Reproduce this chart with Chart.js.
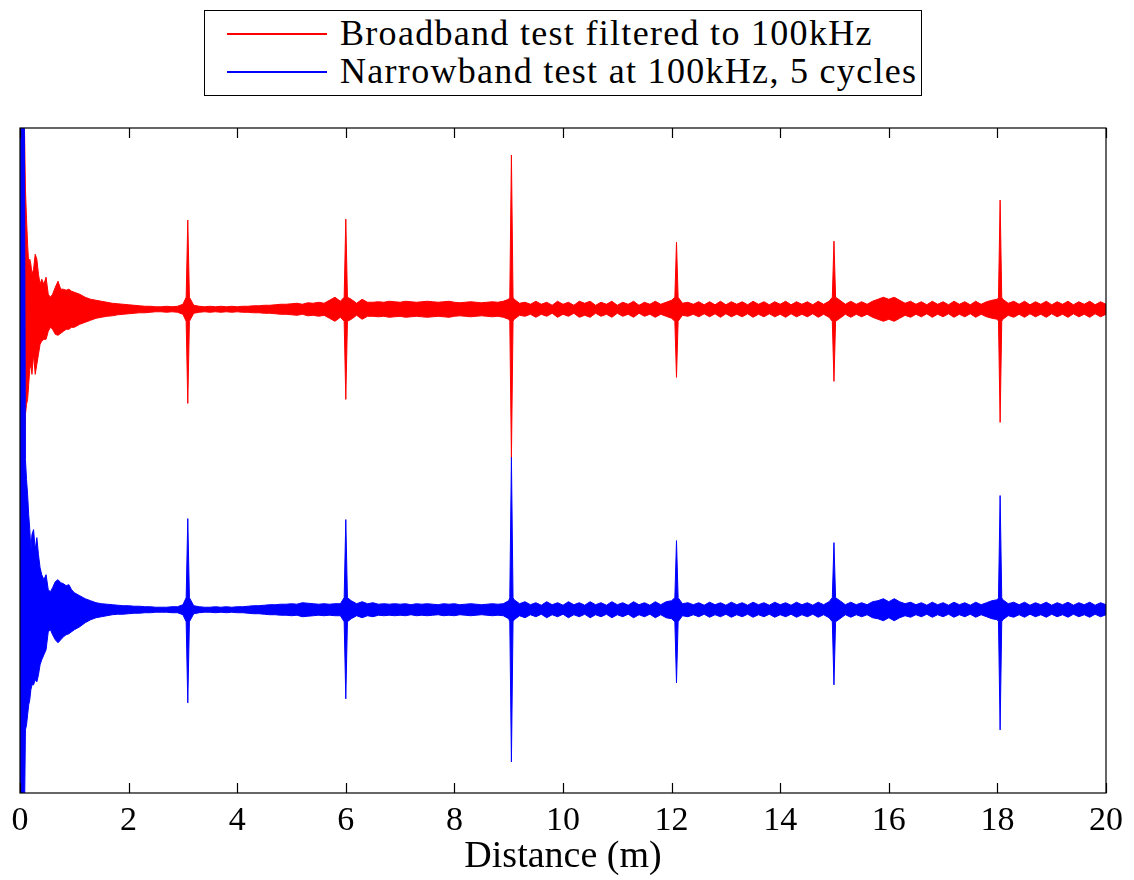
<!DOCTYPE html>
<html>
<head>
<meta charset="utf-8">
<script src="https://cdn.jsdelivr.net/npm/chart.js@4.4.1/dist/chart.umd.min.js"></script>
<style>
  body { margin:0; background:#fff; }
  #wrap { position:relative; width:1134px; height:880px; }
  #legend { position:absolute; left:204px; top:10px; width:718px; height:86px;
    border:1.3px solid #000; box-sizing:border-box; background:#fff;
    font-family:"Liberation Serif", serif; font-size:36px; letter-spacing:1.3px; color:#000; }
  #legend .sw { position:absolute; left:22px; width:100px; height:1.5px; }
  #legend .tx { position:absolute; left:135px; line-height:40px; white-space:nowrap; }
</style>
</head>
<body>
<div id="wrap">
  <canvas id="chart" width="1134" height="880"></canvas>
  <div id="legend">
    <div class="sw" style="top:22px;background:#ff0000"></div>
    <div class="tx" style="top:2px">Broadband test filtered to 100kHz</div>
    <div class="sw" style="top:60px;background:#0000ff"></div>
    <div class="tx" style="top:40px">Narrowband test at 100kHz, 5 cycles</div>
  </div>
</div>
<script>
// axis
const xTicks = [0,2,4,6,8,10,12,14,16,18,20];
const xTitle = 'Distance (m)';
const seriesNames = ['Broadband test filtered to 100kHz', 'Narrowband test at 100kHz, 5 cycles'];
const redOffset = 1.5, blueOffset = -1.5;

// first 2.4 m, envelope of the ringing (upper / lower amplitude)
const earlyX = [0,0.02,0.04,0.06,0.08,0.1,0.12,0.14,0.16,0.18,0.2,0.22,0.25,0.28,0.31,0.34,0.37,0.4,0.44,0.48,
  0.52,0.56,0.6,0.65,0.7,0.75,0.8,0.85,0.9,0.95,1.0,1.1,1.2,1.3,1.4,1.5,1.6,1.7,1.8,1.9,2.0,2.1,2.2,2.3,2.4];
const redUpEarly = [0.3,1.0,1.9,1.9,1.9,1.2,0.9,0.65,0.45,0.5,0.45,0.35,0.4,0.55,0.5,0.35,0.25,0.3,0.25,0.32,
  0.15,0.12,0.15,0.22,0.28,0.2,0.2,0.19,0.2,0.18,0.17,0.15,0.12,0.1,0.09,0.08,0.07,0.06,0.055,0.05,0.045,0.04,0.035,0.03,0.03];
const redDnEarly = [0.3,1.0,1.2,2.48,1.6,1.05,0.95,0.9,0.75,0.6,0.55,0.65,0.45,0.65,0.55,0.45,0.35,0.32,0.3,0.3,
  0.22,0.18,0.2,0.25,0.26,0.24,0.22,0.2,0.2,0.18,0.18,0.15,0.13,0.11,0.09,0.08,0.07,0.065,0.055,0.05,0.045,0.04,0.035,0.035,0.03];
const blueUpEarly = [5,5,5,5,5,1.5,1.3,1.15,0.95,0.8,0.6,0.75,0.8,0.6,0.72,0.55,0.42,0.35,0.3,0.35,
  0.2,0.18,0.22,0.28,0.3,0.27,0.26,0.24,0.25,0.2,0.17,0.14,0.11,0.09,0.07,0.06,0.055,0.05,0.045,0.04,0.04,0.035,0.035,0.03,0.03];
const blueDnEarly = [2.2,2.2,2.2,2.2,2.2,1.2,1.15,1.05,0.95,0.9,0.8,0.75,0.75,0.7,0.72,0.65,0.55,0.5,0.45,0.4,
  0.22,0.2,0.25,0.3,0.33,0.3,0.27,0.25,0.24,0.22,0.2,0.17,0.13,0.1,0.08,0.07,0.06,0.05,0.045,0.045,0.04,0.035,0.035,0.03,0.03];

// 2.5 m .. 20 m, one amplitude every 0.1 m
const bandStart = 2.5, bandStep = 0.1;
const redBand = [
  0.025,0.025,0.03,0.025,0.03,0.05,0.06,0.04,0.03,0.025,
  0.03,0.025,0.03,0.025,0.03,0.025,0.03,0.03,0.035,0.035,
  0.04,0.04,0.045,0.05,0.05,0.055,0.06,0.05,0.065,0.06,
  0.07,0.06,0.09,0.12,0.08,0.08,0.1,0.06,0.1,0.07,
  0.07,0.075,0.07,0.08,0.075,0.07,0.08,0.075,0.07,0.075,
  0.08,0.075,0.07,0.075,0.08,0.07,0.065,0.07,0.075,0.07,
  0.065,0.07,0.075,0.07,0.08,0.1,0.1,0.06,0.07,0.05,
  0.08,0.05,0.07,0.04,0.08,0.05,0.07,0.04,0.08,0.06,
  0.08,0.04,0.07,0.05,0.08,0.04,0.07,0.05,0.08,0.04,
  0.07,0.05,0.08,0.05,0.07,0.09,0.1,0.06,0.07,0.05,
  0.075,0.045,0.075,0.045,0.08,0.045,0.075,0.05,0.075,0.045,
  0.08,0.05,0.075,0.045,0.075,0.05,0.08,0.045,0.075,0.05,
  0.075,0.045,0.08,0.05,0.08,0.1,0.09,0.05,0.08,0.05,
  0.075,0.05,0.08,0.1,0.12,0.1,0.12,0.09,0.06,0.08,
  0.05,0.075,0.045,0.08,0.05,0.075,0.045,0.08,0.05,0.075,
  0.045,0.08,0.05,0.075,0.09,0.1,0.1,0.06,0.08,0.05,
  0.08,0.045,0.075,0.05,0.08,0.045,0.075,0.05,0.08,0.045,
  0.075,0.05,0.08,0.045,0.075,0.05
];
const blueBand = [
  0.025,0.025,0.025,0.03,0.03,0.05,0.06,0.04,0.03,0.025,
  0.025,0.03,0.025,0.03,0.025,0.03,0.03,0.035,0.04,0.04,
  0.045,0.05,0.05,0.055,0.055,0.06,0.055,0.07,0.065,0.06,
  0.055,0.06,0.055,0.06,0.06,0.08,0.09,0.06,0.08,0.06,
  0.07,0.055,0.06,0.055,0.06,0.055,0.06,0.05,0.06,0.055,
  0.06,0.055,0.05,0.06,0.055,0.06,0.05,0.055,0.06,0.055,
  0.05,0.055,0.06,0.055,0.06,0.09,0.1,0.06,0.08,0.05,
  0.07,0.045,0.08,0.05,0.07,0.045,0.08,0.05,0.07,0.045,
  0.08,0.05,0.07,0.045,0.08,0.05,0.07,0.045,0.08,0.05,
  0.07,0.045,0.08,0.05,0.08,0.09,0.1,0.06,0.07,0.05,
  0.07,0.045,0.075,0.05,0.07,0.045,0.075,0.05,0.07,0.045,
  0.075,0.05,0.07,0.045,0.075,0.05,0.07,0.045,0.075,0.05,
  0.07,0.045,0.075,0.05,0.08,0.1,0.09,0.05,0.075,0.05,
  0.07,0.05,0.08,0.09,0.11,0.08,0.11,0.08,0.06,0.075,
  0.05,0.07,0.045,0.075,0.05,0.07,0.045,0.075,0.05,0.07,
  0.045,0.075,0.05,0.07,0.09,0.1,0.1,0.06,0.075,0.05,
  0.075,0.045,0.07,0.05,0.075,0.045,0.07,0.05,0.075,0.045,
  0.07,0.05,0.075,0.045,0.07,0.05
];

// echoes from the joints
const spikeX = [3.09, 6.0, 9.05, 12.09, 14.99, 18.05];
const redSpikeUp  = [0.89, 0.90, 1.54, 0.67, 0.68, 1.09];
const redSpikeDn  = [0.94, 0.90, 1.49, 0.68, 0.72, 1.13];
const blueSpikeUp = [0.91, 0.90, 1.52, 0.69, 0.67, 1.14];
const blueSpikeDn = [0.93, 0.89, 1.52, 0.73, 0.75, 1.20];
const spikeFoot = 0.12;

// builds upper and lower envelope lines for one trace
function envelope(offset, upE, dnE, band, spUp, spDn){
  const pts = [];
  earlyX.forEach((x,i)=>pts.push({x, u:upE[i], d:dnE[i]}));
  band.forEach((a,i)=>{
    const x = +(bandStart + i*bandStep).toFixed(2);
    if (spikeX.some(s=>Math.abs(s-x) < 0.035)) return;
    pts.push({x, u:a, d:a});
  });
  spikeX.forEach((s,i)=>{
    pts.push({x:+(s-0.03).toFixed(3), u:spikeFoot, d:spikeFoot});
    pts.push({x:s, u:spUp[i], d:spDn[i]});
    pts.push({x:+(s+0.03).toFixed(3), u:spikeFoot, d:spikeFoot});
  });
  pts.sort((a,b)=>a.x-b.x);
  return {
    upper: pts.map(p=>({x:p.x, y:offset+p.u})),
    lower: pts.map(p=>({x:p.x, y:offset-p.d}))
  };
}

const red = envelope(redOffset, redUpEarly, redDnEarly, redBand, redSpikeUp, redSpikeDn);
const blue = envelope(blueOffset, blueUpEarly, blueDnEarly, blueBand, blueSpikeUp, blueSpikeDn);

function line(label, data, color, fill){
  return { label, data, borderColor:color, backgroundColor:color, borderWidth:1,
    pointRadius:0, tension:0, fill };
}

// box + inward ticks top and bottom
const frame = {
  id:'frame',
  afterDraw(chart){
    const {ctx, chartArea:{left,right,top,bottom}, scales:{x}} = chart;
    ctx.save();
    ctx.strokeStyle = '#000';
    ctx.lineWidth = 1.2;
    ctx.strokeRect(left, top, right-left, bottom-top);
    ctx.beginPath();
    xTicks.forEach(v=>{
      const px = Math.round(x.getPixelForValue(v)) + 0.5;
      ctx.moveTo(px, bottom); ctx.lineTo(px, bottom-10);
      ctx.moveTo(px, top); ctx.lineTo(px, top+10);
    });
    ctx.stroke();
    ctx.restore();
  }
};

Chart.defaults.font.family = "'Liberation Serif', 'Times New Roman', serif";
Chart.defaults.color = '#000';

function draw(){
  new Chart(document.getElementById('chart'), {
    type:'line',
    data:{ datasets:[
      line(seriesNames[1], blue.upper, '#0000ff', '+1'),
      line(seriesNames[1], blue.lower, '#0000ff', false),
      line(seriesNames[0], red.upper, '#ff0000', '+1'),
      line(seriesNames[0], red.lower, '#ff0000', false)
    ]},
    options:{
      responsive:false,
      animation:false,
      events:[],
      layout:{ padding:{ left:20, right:28, top:128, bottom:0 } },
      plugins:{ legend:{display:false}, tooltip:{enabled:false} },
      scales:{
        x:{
          type:'linear', min:0, max:20,
          afterBuildTicks: s => { s.ticks = xTicks.map(v=>({value:v})); },
          afterFit: s => { s.height = 87; },
          grid:{ display:false, drawTicks:false },
          border:{ display:false },
          ticks:{ padding:8, color:'#000', font:{ size:34 } },
          title:{ display:true, text:xTitle, color:'#000', padding:{top:0,bottom:0},
            font:{ size:38 } }
        },
        y:{ display:false, min:-3.33, max:3.31 }
      }
    },
    plugins:[frame]
  });
}

// canvas text needs the font loaded first
Promise.all([
  document.fonts.load('34px "Liberation Serif"'),
  document.fonts.load('38px "Liberation Serif"')
]).then(draw, draw);
</script>
</body>
</html>
